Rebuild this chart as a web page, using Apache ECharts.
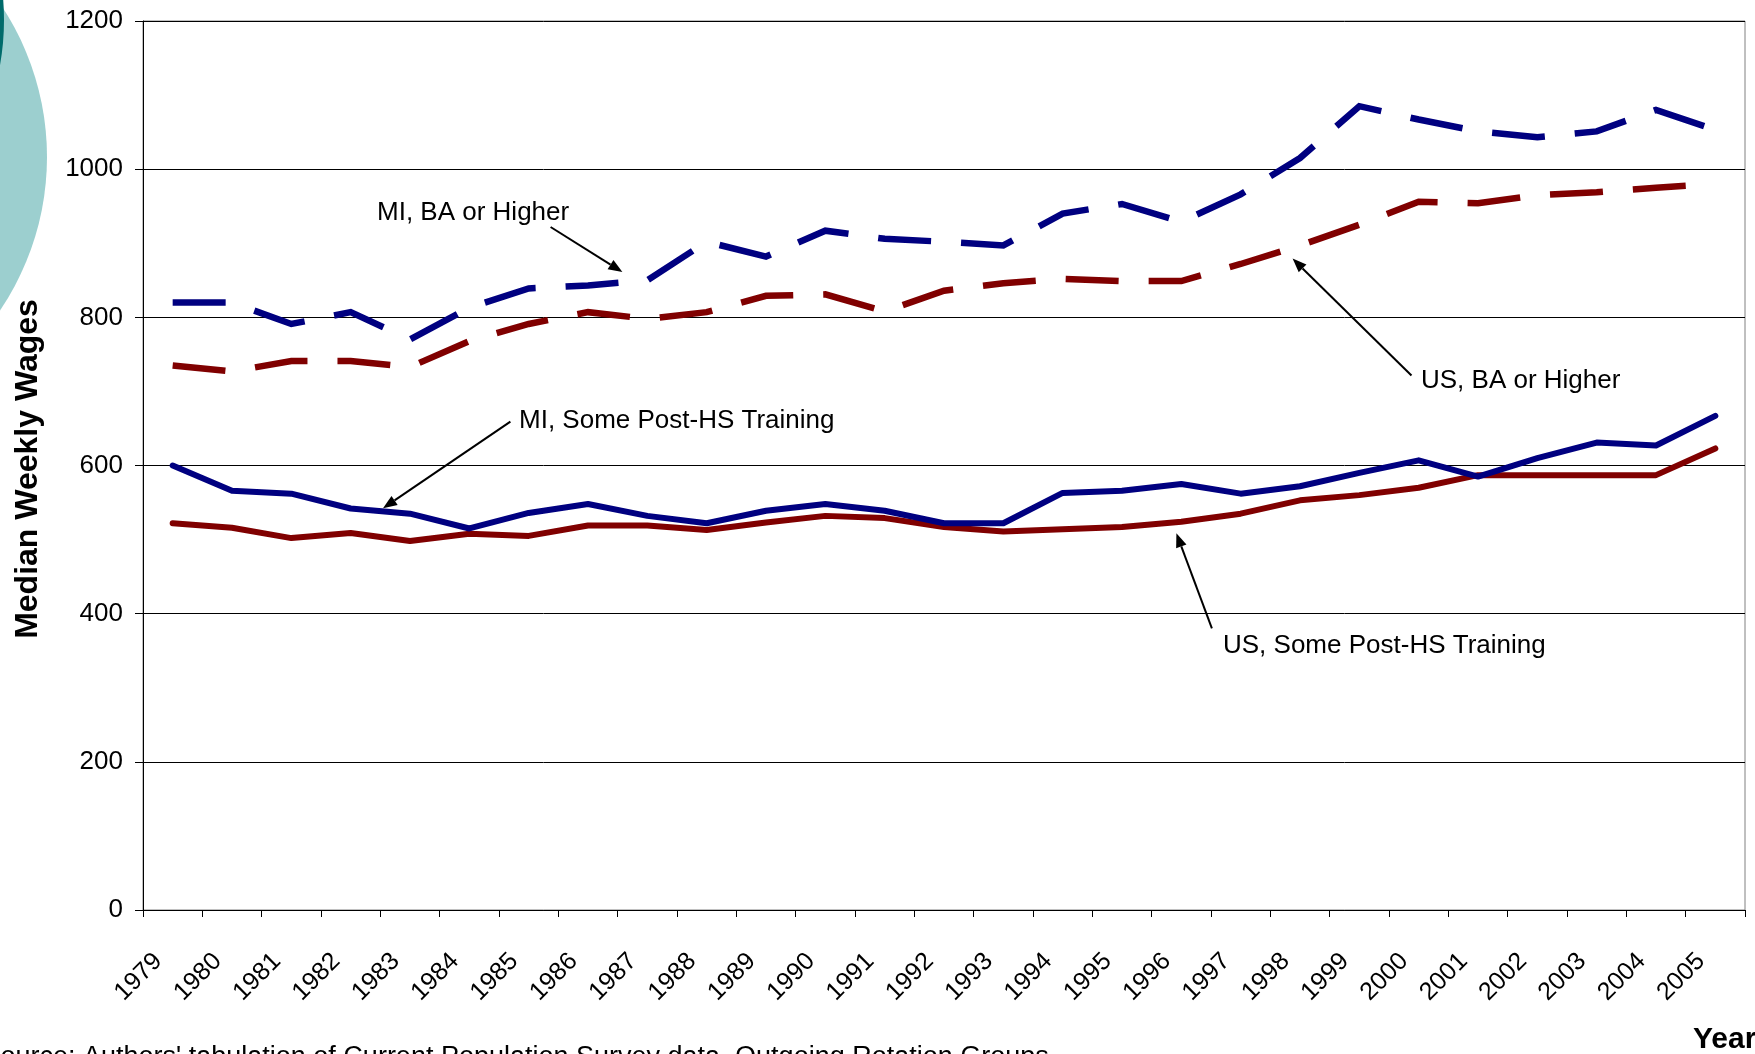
<!DOCTYPE html>
<html><head><meta charset="utf-8">
<script src="https://cdn.jsdelivr.net/npm/echarts@6/dist/echarts.min.js"></script>
<style>html,body{margin:0;padding:0;background:#fff;overflow:hidden}#c{width:1755px;height:1054px}</style>
</head><body><div id="c"></div>
<script>
// ---- data ----
const years = ['1979','1980','1981','1982','1983','1984','1985','1986','1987','1988','1989','1990','1991','1992','1993','1994','1995','1996','1997','1998','1999','2000','2001','2002','2003','2004','2005'];
const miBA   = [820,820,791,807,770,813,839,843,850,902,882,917,906,902,897,940,953,929,966,1015,1085,1067,1051,1043,1051,1080,1053];
const usBA   = [735,727,741,741,733,768,791,807,798,807,829,831,808,836,846,852,849,849,872,897,925,956,954,965,969,975,980];
const miSome = [600,566,562,542,535,515,536,548,532,522,539,548,539,522,522,563,566,575,562,572,590,607,585,610,631,627,667];
const usSome = [522,516,502,509,498,508,505,519,519,513,523,532,529,517,511,514,517,524,535,553,560,570,587,587,587,587,623];
const yMin = 0, yMax = 1200, yStep = 200;

const NAVY = '#000080', MAROON = '#800000';
const FONT = 'Liberation Sans, Arial, sans-serif';

function arrow(x1, y1, x2, y2) {
  const dx = x2 - x1, dy = y2 - y1, L = Math.hypot(dx, dy), ux = dx / L, uy = dy / L;
  const hl = 14, hw = 5.5;
  const bx = x2 - ux * hl, by = y2 - uy * hl;
  return [
    {type: 'line', z: 100, shape: {x1: x1, y1: y1, x2: bx, y2: by}, style: {stroke: '#000', lineWidth: 2}},
    {type: 'polygon', z: 100, shape: {points: [[x2, y2], [bx - uy * hw, by + ux * hw], [bx + uy * hw, by - ux * hw]]}, style: {fill: '#000'}}
  ];
}
function label(text, x, y) {
  return {type: 'text', z: 100, x: x, y: y, style: {text: text, font: '26px ' + FONT, fill: '#000', align: 'left', verticalAlign: 'middle'}};
}

const chart = echarts.init(document.getElementById('c'), null, {renderer: 'canvas'});
const graphics = [
  {type: 'circle', z: -10, shape: {cx: -227, cy: 157, r: 274}, style: {fill: '#9ccfcf'}},
  {type: 'circle', z: -9, shape: {cx: -250, cy: 20, r: 252}, style: {fill: null, stroke: '#006b6b', lineWidth: 4}},
  {type: 'text', z: 100, x: 28, y: 469, rotation: Math.PI / 2,
   style: {text: 'Median Weekly Wages', font: 'bold 32px ' + FONT, fill: '#000', align: 'center', verticalAlign: 'middle'}},
  {type: 'text', z: 100, x: 1693, y: 1040,
   style: {text: 'Year', font: 'bold 30px ' + FONT, fill: '#000', align: 'left', verticalAlign: 'middle'}},
  {type: 'text', z: 100, x: -17.5, y: 1058,
   style: {text: "Source: Authors' tabulation of Current Population Survey data, Outgoing Rotation Groups", font: '27px ' + FONT, fill: '#000', align: 'left', verticalAlign: 'middle'}},
  label('MI, BA or Higher', 377, 213),
  label('MI, Some Post-HS Training', 519, 421),
  label('US, BA or Higher', 1421, 381),
  label('US, Some Post-HS Training', 1223, 646),
  ...arrow(550.6, 227, 622.4, 272),
  ...arrow(510.4, 421.7, 383, 508.3),
  ...arrow(1411.5, 375.5, 1292.6, 258.6),
  ...arrow(1211.9, 628.3, 1176.4, 533.3)
];

function lineSeries(name, data, color, dashed) {
  return {
    name: name, type: 'line', data: data, symbol: 'none', silent: true,
    lineStyle: dashed
      ? {color: color, width: 6.5, type: [53, 30], cap: 'butt', join: 'miter'}
      : {color: color, width: 6, type: 'solid', cap: 'round', join: 'round'},
    z: 3
  };
}

chart.setOption({
  animation: false,
  backgroundColor: '#fff',
  textStyle: {fontFamily: FONT},
  grid: {left: 143, right: 10, top: 21, bottom: 144, show: true, borderColor: '#808080', borderWidth: 1, backgroundColor: 'transparent'},
  xAxis: {
    type: 'category', data: years, boundaryGap: true,
    axisLine: {show: true, lineStyle: {color: '#000', width: 1}},
    axisTick: {show: true, interval: 0, length: 7, inside: false, lineStyle: {color: '#000', width: 1}},
    axisLabel: {interval: 0, rotate: 45, margin: 33, fontSize: 25, color: '#000', fontFamily: FONT, padding: [0, 20.3, 40.6, 0]},
    splitLine: {show: false}
  },
  yAxis: {
    type: 'value', min: yMin, max: yMax, interval: yStep,
    axisLine: {show: true, lineStyle: {color: '#000', width: 1}},
    axisTick: {show: true, length: 8, inside: false, lineStyle: {color: '#000', width: 1}},
    axisLabel: {margin: 20, fontSize: 26, color: '#000', fontFamily: FONT, padding: [0, 0, 5, 0], formatter: function (v) { return String(v); }},
    splitLine: {show: true, lineStyle: {color: '#000', width: 1}}
  },
  series: [
    lineSeries('US, Some Post-HS Training', usSome, MAROON, false),
    lineSeries('MI, Some Post-HS Training', miSome, NAVY, false),
    lineSeries('US, BA or Higher', usBA, MAROON, true),
    lineSeries('MI, BA or Higher', miBA, NAVY, true)
  ],
  graphic: graphics
});
</script></body></html>
